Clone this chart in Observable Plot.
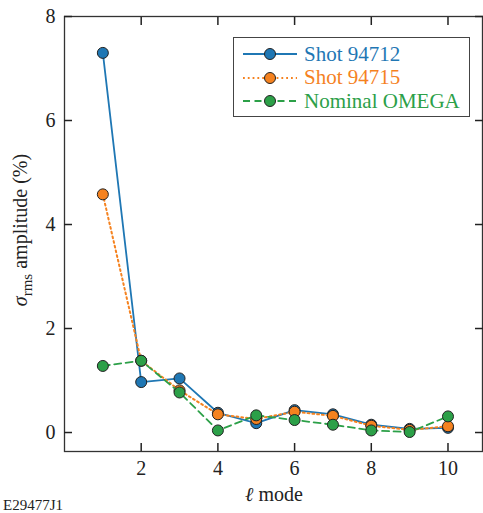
<!DOCTYPE html>
<html>
<head>
<meta charset="utf-8">
<script src="https://cdn.jsdelivr.net/npm/d3@7"></script>
<script src="https://cdn.jsdelivr.net/npm/@observablehq/plot@0.6"></script>
</head>
<body style="margin:0;background:white;font-family:'Liberation Serif','Times New Roman',serif">
<div id="wrap"></div>
<script>
const modes = [1, 2, 3, 4, 5, 6, 7, 8, 9, 10];
const shot94712 = [7.30, 0.97, 1.04, 0.38, 0.18, 0.43, 0.35, 0.15, 0.07, 0.09];
const shot94715 = [4.58, 1.38, 0.81, 0.35, 0.26, 0.40, 0.32, 0.13, 0.05, 0.12];
const nominal   = [1.28, 1.38, 0.77, 0.04, 0.33, 0.24, 0.15, 0.04, 0.01, 0.31];
const seriesNames = ["Shot 94712", "Shot 94715", "Nominal OMEGA"];
const seriesColors = ["#1f77b4", "#f5821f", "#2ca048"];
const seriesDash = [null, "1.8,3", "7,4.5"];
const xTicks = [2, 4, 6, 8, 10];
const yTicks = [0, 2, 4, 6, 8];
const FONT = "'Liberation Serif', 'Times New Roman', serif";

const allSeries = [shot94712, shot94715, nominal];
const data = allSeries.flatMap((vals, i) => vals.map((v, j) => ({mode: modes[j], value: v, series: seriesNames[i], idx: i})));

const lineMarks = seriesNames.map((name, i) =>
  Plot.line(data.filter(d => d.idx === i), {x: "mode", y: "value", stroke: seriesColors[i], strokeWidth: i === 1 ? 2 : 1.8, strokeDasharray: seriesDash[i]})
);
const dotMarks = seriesNames.map((name, i) =>
  Plot.dot(data.filter(d => d.idx === i), {x: "mode", y: "value", r: 5.5, fill: seriesColors[i], stroke: "#222", strokeWidth: 1})
);

const chart = Plot.plot({
  width: 483,
  height: 513,
  marginLeft: 64,
  marginRight: 1,
  marginTop: 16,
  marginBottom: 62,
  style: {fontFamily: FONT, fontSize: "20px", color: "#222", background: "white"},
  x: {domain: [0, 10.9]},
  y: {domain: [-0.365, 8]},
  marks: [
    Plot.frame({stroke: "#333", strokeWidth: 1.3}),
    Plot.axisY({ticks: yTicks, tickSize: -8, tickPadding: 17, label: null, strokeWidth: 1.5}),
    Plot.axisY({ticks: yTicks, anchor: "right", tickSize: -8, tickFormat: () => "", label: null, strokeWidth: 1.5}),
    Plot.axisX({ticks: xTicks, tickSize: -8, tickPadding: 17, label: null, strokeWidth: 1.5}),
    Plot.axisX({ticks: xTicks, anchor: "top", tickSize: -8, tickFormat: () => "", label: null, strokeWidth: 1.5}),
    lineMarks[0], dotMarks[0],
    lineMarks[1], dotMarks[1],
    lineMarks[2], dotMarks[2]
  ]
});

const svg = d3.select(chart);
svg.attr("font-family", FONT);
svg.selectAll("text").attr("font-family", FONT);
const yl = svg.append("text")
  .attr("transform", "translate(27,230) rotate(-90)")
  .attr("text-anchor", "middle")
  .attr("fill", "#222")
  .attr("font-family", FONT)
  .style("font-size", "20px");
yl.append("tspan").attr("font-style", "italic").text("σ");
yl.append("tspan").attr("dy", 5).style("font-size", "15px").text("rms");
yl.append("tspan").attr("dy", -5).text(" amplitude (%)");
const xl = svg.append("text")
  .attr("x", 274).attr("y", 501)
  .attr("text-anchor", "middle")
  .attr("fill", "#222")
  .attr("font-family", FONT)
  .style("font-size", "20px");
xl.append("tspan").attr("font-style", "italic").text("ℓ");
xl.append("tspan").text(" mode");

const wrap = document.getElementById("wrap");
Object.assign(wrap.style, {position: "relative", width: "483px", height: "513px"});
wrap.appendChild(chart);

const legend = document.createElement("div");
Object.assign(legend.style, {position: "absolute", left: "233px", top: "37px", width: "237px", height: "80px", border: "1.5px solid #444", boxSizing: "border-box", background: "white"});
seriesNames.forEach((name, i) => {
  const row = document.createElement("div");
  Object.assign(row.style, {position: "absolute", left: "8px", top: (4 + i * 23.5) + "px", height: "24px", display: "flex", alignItems: "center", whiteSpace: "nowrap", color: seriesColors[i]});
  const s = d3.create("svg").attr("width", 56).attr("height", 20).style("margin-right", "6px");
  s.append("line").attr("x1", 1).attr("x2", 55).attr("y1", 10).attr("y2", 10)
    .attr("stroke", seriesColors[i]).attr("stroke-width", i === 1 ? 2 : 1.8)
    .attr("stroke-dasharray", seriesDash[i]);
  s.append("circle").attr("cx", 28).attr("cy", 10).attr("r", 5.5).attr("fill", seriesColors[i]).attr("stroke", "#222");
  row.appendChild(s.node());
  const span = document.createElement("span");
  span.style.fontFamily = FONT;
  span.style.fontSize = "21px";
  span.textContent = name;
  row.appendChild(span);
  legend.appendChild(row);
});
wrap.appendChild(legend);

const cap = document.createElement("div");
Object.assign(cap.style, {position: "absolute", left: "3px", top: "497px", fontSize: "15px", color: "#222", fontFamily: FONT});
cap.textContent = "E29477J1";
wrap.appendChild(cap);
</script>
</body>
</html>
